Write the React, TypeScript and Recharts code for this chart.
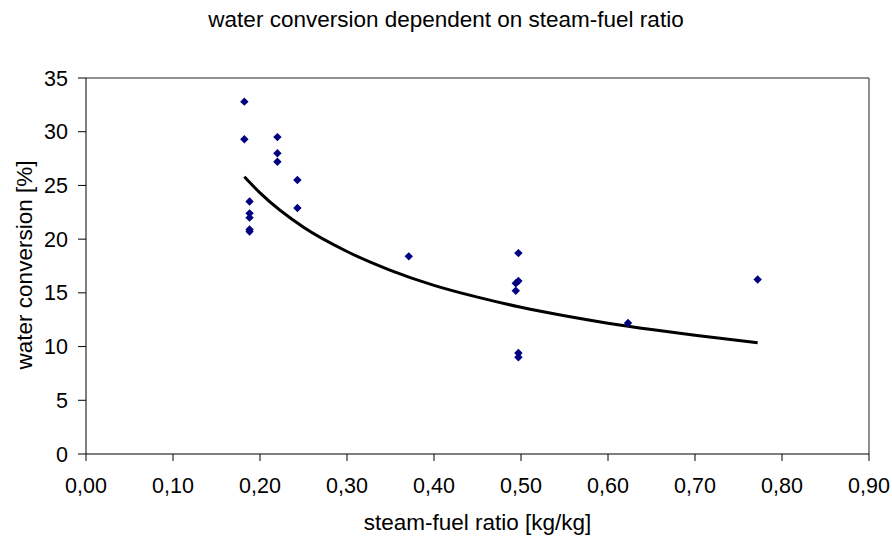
import { ComposedChart, Line, Scatter, XAxis, YAxis, ReferenceLine } from "recharts";

// measured samples
const ratio = [0.182, 0.182, 0.22, 0.22, 0.22, 0.243, 0.243, 0.188, 0.188, 0.188, 0.188, 0.188, 0.371, 0.497, 0.497, 0.494, 0.494, 0.497, 0.497, 0.623, 0.772];
const conversion = [32.8, 29.3, 29.5, 28.0, 27.2, 25.5, 22.9, 23.5, 22.4, 22.0, 20.9, 20.7, 18.4, 18.7, 16.1, 15.9, 15.2, 9.4, 9.0, 12.2, 16.25];

// power trend line
const trendRatio = [0.182, 0.2, 0.25, 0.3, 0.35, 0.4, 0.45, 0.5, 0.55, 0.6, 0.65, 0.7, 0.772];
const trendConversion = [25.8, 24.3, 21.1, 18.85, 17.1, 15.7, 14.6, 13.66, 12.87, 12.18, 11.58, 11.05, 10.35];

const xTicks = [0, 0.1, 0.2, 0.3, 0.4, 0.5, 0.6, 0.7, 0.8, 0.9];
const yTicks = [0, 5, 10, 15, 20, 25, 30, 35];

const points = ratio.map((x, i) => ({ x, y: conversion[i] }));
const trend = trendRatio.map((x, i) => ({ x, y: trendConversion[i] }));

const FONT = '"Liberation Sans", Arial, sans-serif';

const Diamond = (props: any) => {
  const { cx, cy } = props;
  const r = 4.2;
  return (
    <polygon
      points={`${cx},${cy - r} ${cx + r},${cy} ${cx},${cy + r} ${cx - r},${cy}`}
      fill="#000080"
    />
  );
};

export default function App() {
  return (
    <div style={{ position: "fixed", left: 0, top: 0, width: 892, height: 536, background: "#fff", fontFamily: FONT }}>
      <div style={{ position: "absolute", left: 0, top: 7, width: 892, textAlign: "center", fontSize: 22.5, color: "#000" }}>
        water conversion dependent on steam-fuel ratio
      </div>
      <div
        style={{
          position: "absolute",
          left: 25,
          top: 265,
          transform: "translate(-50%, -50%) rotate(-90deg)",
          whiteSpace: "nowrap",
          fontSize: 22.5,
          color: "#000",
        }}
      >
        water conversion [%]
      </div>
      <ComposedChart width={892} height={536} margin={{ top: 78, right: 23, bottom: 0, left: 0 }}>
        <XAxis
          type="number"
          dataKey="x"
          domain={[0, 0.9]}
          ticks={xTicks}
          interval={0}
          height={82}
          tickSize={7}
          tickMargin={17}
          stroke="#000"
          tick={{ fill: "#000", fontSize: 21.5, fontFamily: FONT }}
          tickFormatter={(v: number) => v.toFixed(2).replace(".", ",")}
          label={{ value: "steam-fuel ratio [kg/kg]", position: "insideBottom", offset: 6, fill: "#000", fontSize: 22.5, fontFamily: FONT }}
        />
        <YAxis
          type="number"
          dataKey="y"
          domain={[0, 35]}
          ticks={yTicks}
          interval={0}
          width={86}
          tickSize={8}
          tickMargin={10}
          stroke="#000"
          tick={{ fill: "#000", fontSize: 21.5, fontFamily: FONT }}
        />
        <ReferenceLine y={35} stroke="#6b6b6b" strokeWidth={1.5} />
        <ReferenceLine x={0.9} stroke="#6b6b6b" strokeWidth={1.5} />
        <Line
          data={trend}
          dataKey="y"
          type="monotone"
          stroke="#000"
          strokeWidth={3}
          dot={false}
          isAnimationActive={false}
        />
        <Scatter data={points} dataKey="y" shape={Diamond} isAnimationActive={false} />
      </ComposedChart>
    </div>
  );
}
